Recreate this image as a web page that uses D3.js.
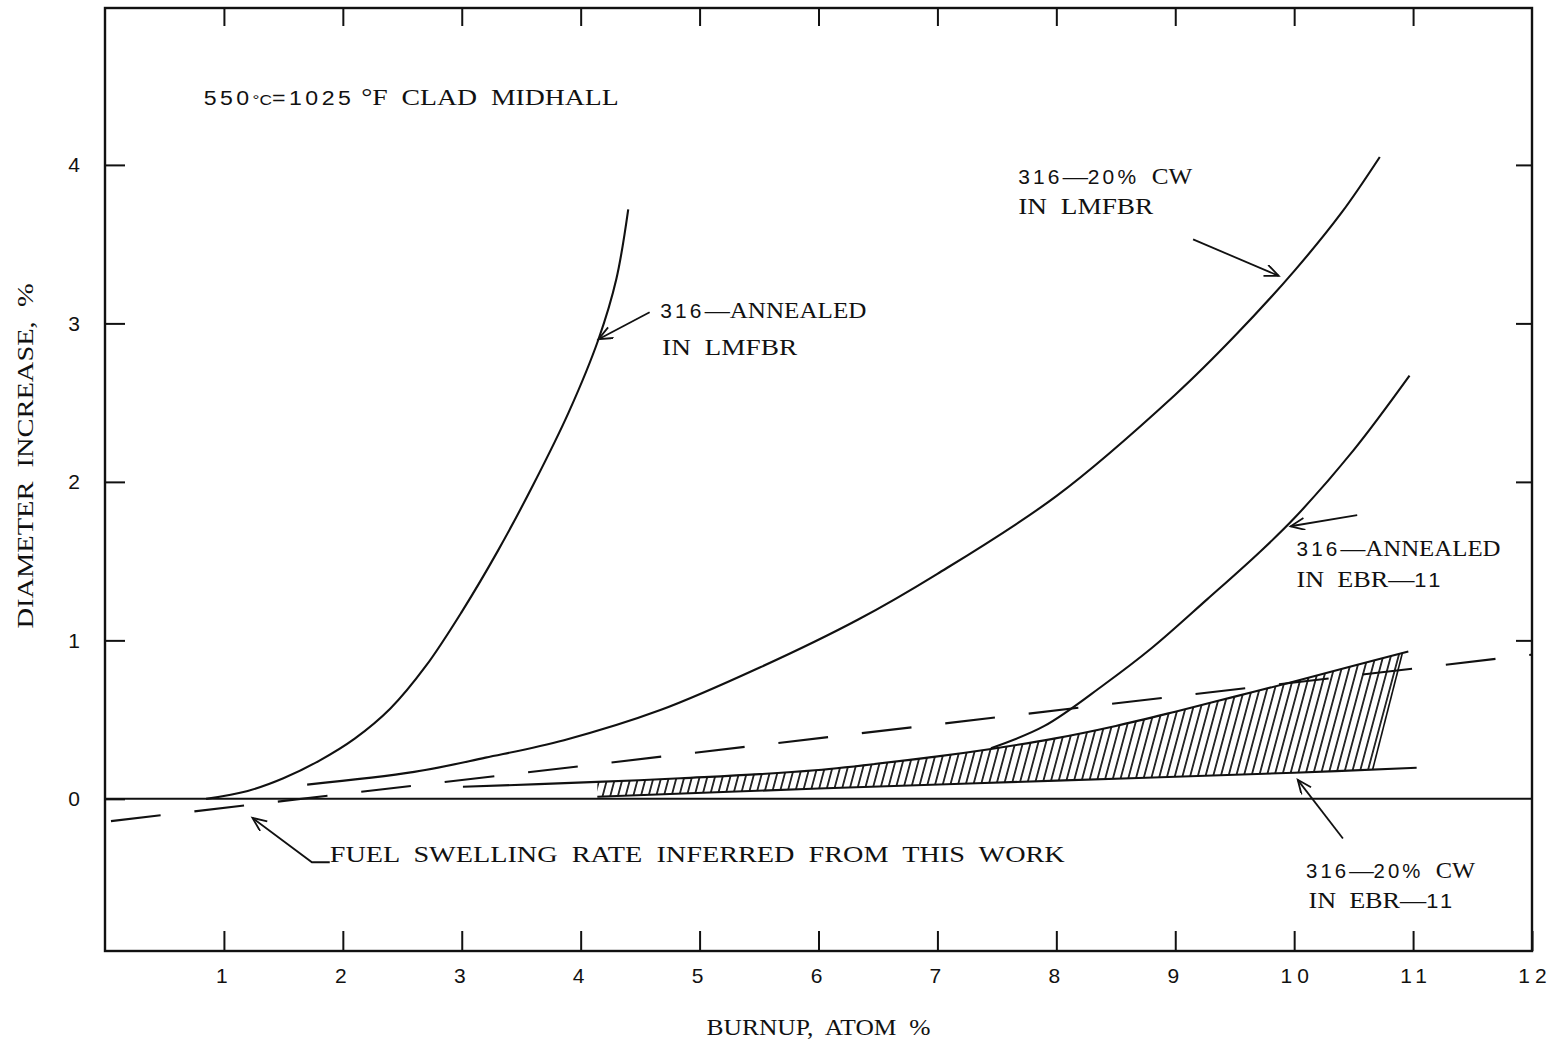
<!DOCTYPE html>
<html>
<head>
<meta charset="utf-8">
<script src="https://cdn.jsdelivr.net/npm/d3@7"></script>
<style>
  body { margin: 0; background: #fff; }
  svg { display: block; background: #fff; }
  .ser { font-family: 'Liberation Serif', 'DejaVu Serif', serif; font-size: 24px; }
  .num { font-family: 'Liberation Sans', 'DejaVu Sans', sans-serif; font-size: 20px; letter-spacing: 3px; }
  .sup { font-family: 'Liberation Sans', sans-serif; font-size: 15px; }
  .tick text { font-family: 'Liberation Sans', 'DejaVu Sans', sans-serif; font-size: 21px; fill: #111; letter-spacing: 5px; }
  .tick line { stroke: #111; stroke-width: 2; }
  text { fill: #111; white-space: pre; }
</style>
</head>
<body>
<svg id="chart" width="1552" height="1046"></svg>
<script>
// Clad diameter increase (%) against burnup (atom %) at 550 °C clad midwall.

// x tick values (burnup, atom %) and y tick values (diameter increase, %)
const xTicks = [1, 2, 3, 4, 5, 6, 7, 8, 9, 10, 11, 12];
const yTicks = [0, 1, 2, 3, 4];

// 316 annealed, LMFBR
const annealedLmfbr = [[0.85, 0], [1.2, 0.05], [1.5, 0.13], [1.8, 0.24], [2.1, 0.38],
  [2.4, 0.57], [2.7, 0.84], [3.0, 1.18], [3.3, 1.56], [3.6, 1.98], [3.9, 2.44], [4.15, 2.9],
  [4.3, 3.28], [4.4, 3.72]];

// 316 20% cold worked, LMFBR
const cwLmfbr = [[1.7, 0.09], [2.6, 0.17], [3.2, 0.26], [3.86, 0.37], [4.67, 0.56],
  [5.51, 0.83], [6.33, 1.13], [7.0, 1.42], [8.0, 1.91], [9.0, 2.55], [9.5, 2.92], [10.0, 3.33],
  [10.4, 3.7], [10.72, 4.05]];

// 316 annealed, EBR-II (branches off the upper band edge)
const annealedEbr = [[7.45, 0.32], [7.9, 0.46], [8.4, 0.72], [8.8, 0.95], [9.27, 1.26],
  [9.7, 1.55], [10.0, 1.77], [10.5, 2.2], [10.97, 2.67]];

// 316 20% cold worked, EBR-II: upper and lower edges of the scatter band
const cwEbrUpper = [[3.01, 0.076], [4.14, 0.107], [4.84, 0.13], [5.97, 0.18], [6.97, 0.265], [7.45, 0.315],
  [7.98, 0.38], [8.5, 0.46], [9.0, 0.55], [9.5, 0.645], [10.0, 0.74], [10.5, 0.84], [10.96, 0.93]];
const cwEbrLower = [[4.14, 0.013], [6.0, 0.065], [8.0, 0.115], [10.0, 0.165], [11.03, 0.196]];

// extent of the hatched band: left edge, right edge at top, right edge at bottom
const bandLeft = 4.14, bandRightTop = 10.91, bandRightBottom = 10.66;

// fuel swelling rate inferred from this work
const fuelSwelling = [[0, -0.145], [12, 0.91]];

const svg = d3.select('#chart');
const x = d3.scaleLinear().domain([0, 12]).range([105, 1532]);
const y = d3.scaleLinear().domain([-0.96, 4.99]).range([951, 8]);

const defs = svg.append('defs');
defs.append('pattern')
  .attr('id', 'hatch').attr('patternUnits', 'userSpaceOnUse')
  .attr('width', 7.4).attr('height', 10).attr('patternTransform', 'rotate(15)')
  .append('line').attr('x1', 3.7).attr('y1', -1).attr('x2', 3.7).attr('y2', 11)
  .attr('stroke', '#111').attr('stroke-width', 1.7);
defs.append('marker')
  .attr('id', 'arrow').attr('markerUnits', 'userSpaceOnUse')
  .attr('markerWidth', 20).attr('markerHeight', 20).attr('refX', 16).attr('refY', 6)
  .attr('orient', 'auto')
  .append('path').attr('d', 'M2,0 L16,6 L2,12').attr('fill', 'none')
  .attr('stroke', '#111').attr('stroke-width', 1.8);

// ---- axes (ticks point inward) ----
const gx = svg.append('g').attr('transform', `translate(0,${y(-0.96)})`)
  .call(d3.axisBottom(x).tickValues(xTicks).tickSize(-20).tickPadding(17).tickFormat(d => d));
gx.select('.domain').remove();
gx.selectAll('.tick text').attr('dx', d => d >= 10 ? 2.5 : 0);

const gt = svg.append('g').attr('transform', `translate(0,${y(4.99)})`)
  .call(d3.axisTop(x).tickValues(xTicks.slice(0, -1)).tickSize(-18).tickFormat(''));
gt.select('.domain').remove();

const gy = svg.append('g').attr('transform', `translate(${x(0)},0)`)
  .call(d3.axisLeft(y).tickValues(yTicks).tickSize(-20).tickPadding(20).tickFormat(d => d));
gy.select('.domain').remove();

const gr = svg.append('g').attr('transform', `translate(${x(12)},0)`)
  .call(d3.axisRight(y).tickValues(yTicks.slice(1)).tickSize(-16).tickFormat(''));
gr.select('.domain').remove();

// frame
svg.append('rect')
  .attr('x', x(0)).attr('y', y(4.99))
  .attr('width', x(12) - x(0)).attr('height', y(-0.96) - y(4.99))
  .attr('fill', 'none').attr('stroke', '#111').attr('stroke-width', 2.4);

// zero line
svg.append('line')
  .attr('x1', x(0)).attr('x2', x(12)).attr('y1', y(0)).attr('y2', y(0))
  .attr('stroke', '#111').attr('stroke-width', 2);

// ---- hatched band ----
function interp(pts, xv) {
  for (let i = 0; i < pts.length - 1; i++) {
    const [x0, y0] = pts[i], [x1, y1] = pts[i + 1];
    if (xv >= x0 && xv <= x1) return y0 + (y1 - y0) * (xv - x0) / (x1 - x0);
  }
  return xv < pts[0][0] ? pts[0][1] : pts[pts.length - 1][1];
}
function clip(pts, a, b) {
  return [[a, interp(pts, a)], ...pts.filter(p => p[0] > a && p[0] < b), [b, interp(pts, b)]];
}
const bandTop = clip(cwEbrUpper, bandLeft, bandRightTop);
const bandBottom = clip(cwEbrLower, bandLeft, bandRightBottom);
const poly = d3.line().x(d => x(d[0])).y(d => y(d[1]));
svg.append('path')
  .attr('d', poly([...bandTop, ...bandBottom.slice().reverse()]) + 'Z')
  .attr('fill', 'url(#hatch)').attr('stroke', 'none');
// slanted right edge of the band
svg.append('path')
  .attr('d', poly([bandTop[bandTop.length - 1], bandBottom[bandBottom.length - 1]]))
  .attr('fill', 'none').attr('stroke', '#111').attr('stroke-width', 1.6);

// ---- curves ----
const smooth = d3.line().x(d => x(d[0])).y(d => y(d[1])).curve(d3.curveCatmullRom.alpha(0.5));
[annealedLmfbr, cwLmfbr, annealedEbr, cwEbrUpper, cwEbrLower].forEach(series => {
  svg.append('path').attr('d', smooth(series))
    .attr('fill', 'none').attr('stroke', '#111').attr('stroke-width', 2.1);
});

svg.append('path').attr('d', poly(fuelSwelling))
  .attr('fill', 'none').attr('stroke', '#111').attr('stroke-width', 2.1)
  .attr('stroke-dasharray', '50 34').attr('stroke-dashoffset', -6);

// ---- annotations ----
function label(px, py, parts, width) {
  const t = svg.append('text').attr('x', x(px)).attr('y', y(py))
    .attr('textLength', width).attr('lengthAdjust', 'spacingAndGlyphs');
  parts.forEach(([s, kind]) => t.append('tspan').attr('class', kind).text(s));
  return t;
}

label(0.83, 4.38, [['550', 'num'], ['°C', 'sup'], ['=', 'num'], ['1025', 'num'], [' °F  CLAD  MIDHALL', 'ser']], 415);

label(4.67, 3.035, [['316', 'num'], ['—ANNEALED', 'ser']], 206);
label(4.685, 2.80, [['IN  LMFBR', 'ser']], 135);

label(7.68, 3.88, [['316', 'num'], ['—', 'ser'], ['20%', 'num'], ['  CW', 'ser']], 174);
label(7.68, 3.69, [['IN  LMFBR', 'ser']], 135);

label(10.02, 1.533, [['316', 'num'], ['—ANNEALED', 'ser']], 204);
label(10.02, 1.338, [['IN  EBR—', 'ser'], ['11', 'num']], 147);

label(10.10, -0.498, [['316', 'num'], ['—', 'ser'], ['20%', 'num'], ['  CW', 'ser']], 169);
label(10.12, -0.688, [['IN  EBR—', 'ser'], ['11', 'num']], 147);

label(1.89, -0.40, [['FUEL  SWELLING  RATE  INFERRED  FROM  THIS  WORK', 'ser']], 735);

// arrows: [tail, tip] in data units
const arrows = [
  [[4.58, 3.07], [4.15, 2.90]],
  [[9.15, 3.53], [9.87, 3.30]],
  [[10.53, 1.79], [9.97, 1.72]],
  [[10.41, -0.25], [10.03, 0.12]],
  [[1.89, -0.40], [1.74, -0.40], [1.24, -0.12]]
];
arrows.forEach(a => {
  svg.append('path').attr('d', poly(a))
    .attr('fill', 'none').attr('stroke', '#111').attr('stroke-width', 1.8)
    .attr('marker-end', 'url(#arrow)');
});

// axis titles
svg.append('text').attr('class', 'ser')
  .attr('x', x(6)).attr('y', 1035).attr('text-anchor', 'middle')
  .attr('textLength', 224).attr('lengthAdjust', 'spacingAndGlyphs')
  .text('BURNUP,  ATOM  %');

svg.append('text').attr('class', 'ser')
  .attr('transform', `translate(33,${(y(4) + y(-0.96)) / 2 - 102}) rotate(-90)`)
  .attr('text-anchor', 'middle')
  .attr('textLength', 345).attr('lengthAdjust', 'spacingAndGlyphs')
  .text('DIAMETER  INCREASE,  %');
</script>
</body>
</html>
